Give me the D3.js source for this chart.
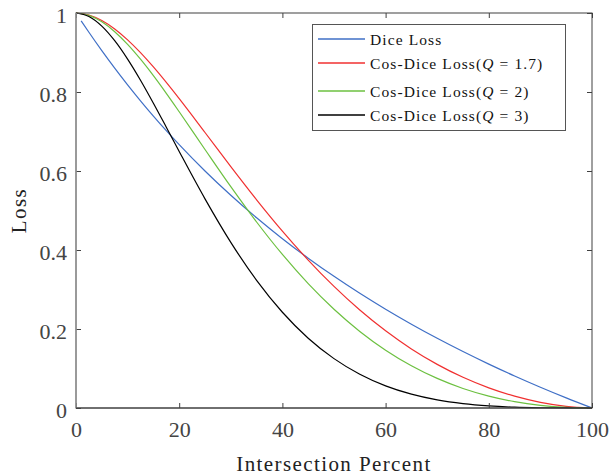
<!DOCTYPE html>
<html><head><meta charset="utf-8">
<script src="https://cdn.jsdelivr.net/npm/d3@7"></script>
<style>body{margin:0;background:#fff}text{font-family:"Liberation Serif","DejaVu Serif",serif}</style>
</head><body><svg id="c" width="610" height="475"></svg>
<script>
const xDice = [1,2.5,5,7.5,10,12.5,15,17.5,20,25,30,35,40,45,50,55,60,65,70,75,80,85,90,95,100];
const diceLoss = [0.9802,0.9512,0.9048,0.8605,0.8182,0.7778,0.7391,0.7021,0.6667,0.6,0.5385,0.4815,0.4286,0.3793,0.3333,0.2903,0.25,0.2121,0.1765,0.1429,0.1111,0.0811,0.0526,0.0256,0];
const xCos = [0,2.5,5,7.5,10,12.5,15,17.5,20,25,30,35,40,45,50,55,60,65,70,75,80,85,90,95,100];
const cosQ17 = [1,0.9950,0.9811,0.9597,0.9321,0.8997,0.8634,0.8242,0.7831,0.6975,0.6111,0.5272,0.4479,0.3745,0.3078,0.2480,0.1954,0.1496,0.1105,0.0777,0.0510,0.0300,0.0144,0.0043,0];
const cosQ2 = [1,0.9941,0.9778,0.9527,0.9206,0.8830,0.8413,0.7966,0.75,0.6545,0.5603,0.4709,0.3887,0.3149,0.25,0.1939,0.1464,0.1070,0.0749,0.0495,0.0302,0.0161,0.0068,0.0016,0];
const cosQ3 = [1,0.9912,0.9669,0.9299,0.8833,0.8298,0.7716,0.7109,0.6495,0.5295,0.4194,0.3232,0.2424,0.1767,0.125,0.0854,0.0560,0.0350,0.0205,0.0110,0.0052,0.0020,0.0006,0.0001,0];
const xTicks = [0,20,40,60,80,100];
const yTicks = [0,0.2,0.4,0.6,0.8,1];
const yTickLabels = ["0","0.2","0.4","0.6","0.8","1"];
const seriesNames = ["Dice Loss","Cos-Dice Loss(Q = 1.7)","Cos-Dice Loss(Q = 2)","Cos-Dice Loss(Q = 3)"];
const qValues = [null,"1.7","2","3"];
const colors = ["#3f6fc6","#f03030","#6cc040","#000000"];

const svg = d3.select("#c");
const L=76,R=592,T=13,B=408;
const x = d3.scaleLinear().domain([0,100]).range([L,R]);
const y = d3.scaleLinear().domain([0,1]).range([B,T]);

const series = [
  xDice.map((v,i)=>[v,diceLoss[i]]),
  xCos.map((v,i)=>[v,cosQ17[i]]),
  xCos.map((v,i)=>[v,cosQ2[i]]),
  xCos.map((v,i)=>[v,cosQ3[i]])
];
const line = d3.line().x(d=>x(d[0])).y(d=>y(d[1])).curve(d3.curveMonotoneX);
series.forEach((s,i)=>{
  svg.append("path").attr("d",line(s)).attr("fill","none").attr("stroke",colors[i]).attr("stroke-width",1.2);
});

const ax = svg.append("g").attr("transform",`translate(0,${B})`).call(d3.axisBottom(x).tickValues(xTicks).tickSize(-5).tickPadding(13));
const ay = svg.append("g").attr("transform",`translate(${L},0)`).call(d3.axisLeft(y).tickValues(yTicks).tickFormat((d,i)=>yTickLabels[i]).tickSize(-5).tickPadding(9));
const axT = svg.append("g").attr("transform",`translate(0,${T})`).call(d3.axisTop(x).tickValues(xTicks).tickSize(-5).tickFormat(""));
const ayR = svg.append("g").attr("transform",`translate(${R},0)`).call(d3.axisRight(y).tickValues(yTicks).tickSize(-5).tickFormat(""));
[ax,ay,axT,ayR].forEach(g=>{
  g.select(".domain").attr("stroke","none");
  g.selectAll(".tick line").attr("stroke","#404040");
  g.selectAll(".tick text").attr("fill","#444").style("font-size","22px").style("font-family","'Liberation Serif',serif");
});
ax.selectAll(".tick text").attr("dy","0.71em");
ay.selectAll(".tick text").attr("dy","0.45em");
svg.append("rect").attr("x",L).attr("y",T).attr("width",R-L).attr("height",B-T).attr("fill","none").attr("stroke","#404040").attr("stroke-width",1);
svg.append("line").attr("x1",L).attr("x2",L).attr("y1",T).attr("y2",B).attr("stroke","#999").attr("stroke-width",1.5);
svg.append("line").attr("x1",L).attr("x2",R).attr("y1",B).attr("y2",B).attr("stroke","#404040").attr("stroke-width",1.2);

svg.append("text").attr("x",(L+R)/2).attr("y",471).attr("text-anchor","middle").style("font-size","21px").style("letter-spacing","1.4px").attr("fill","#222").text("Intersection Percent");
svg.append("text").attr("transform",`translate(26,${(T+B)/2}) rotate(-90)`).attr("text-anchor","middle").style("font-size","21px").style("letter-spacing","1.4px").attr("fill","#222").text("Loss");

const lg = svg.append("g");
lg.append("rect").attr("x",312.5).attr("y",24.5).attr("width",253).attr("height",106).attr("fill","#fff").attr("stroke","#555").attr("stroke-width",1);
const rowsY=[39,63,91,115];
seriesNames.forEach((n,i)=>{
  lg.append("line").attr("x1",318).attr("x2",365).attr("y1",rowsY[i]).attr("y2",rowsY[i]).attr("stroke",colors[i]).attr("stroke-width",1.4);
  const t = lg.append("text").attr("x",370).attr("y",rowsY[i]).attr("dy","0.4em").style("font-size","15.5px").style("letter-spacing","1.1px").attr("fill","#111");
  if(qValues[i]===null){ t.text(n); }
  else {
    t.append("tspan").text("Cos-Dice Loss(");
    t.append("tspan").style("font-style","italic").text("Q");
    t.append("tspan").attr("dx",5).text("=");
    t.append("tspan").attr("dx",5).text(qValues[i]+")");
  }
});
</script></body></html>
